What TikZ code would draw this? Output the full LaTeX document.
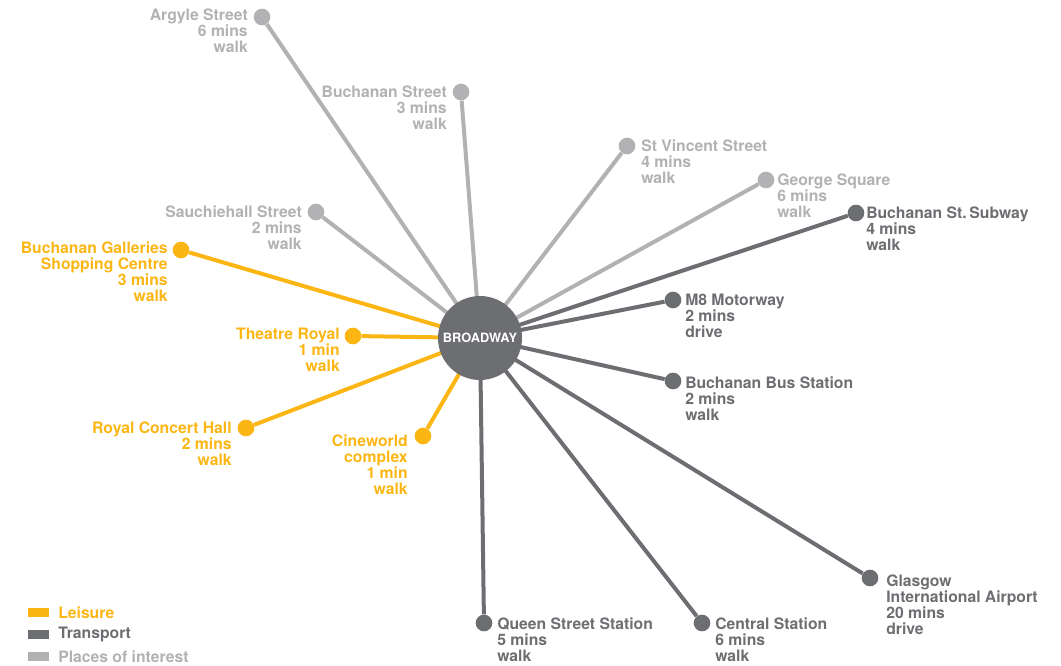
\documentclass[tikz,border=0pt]{standalone}
\usepackage{fontspec}
\setmainfont{TeX Gyre Heros}
\definecolor{leis}{HTML}{FBB614}
\definecolor{trans}{HTML}{6D6E71}
\definecolor{place}{HTML}{B2B2B4}
\tikzset{
  lbl/.style={font=\bfseries\fontsize{11.8}{12}\selectfont, inner sep=0pt},
  lblL/.style={lbl, align=right, anchor=north east},
  lblR/.style={lbl, align=left, anchor=north west},
  dot/.style={circle, fill=#1, minimum size=12.5pt, inner sep=0pt},
  spoke/.style={line width=3pt, draw=#1},
  swatch/.style={fill=#1, draw=none},
}
\begin{document}
\begin{tikzpicture}[x=0.75pt,y=-0.75pt]
\useasboundingbox (0,0) rectangle (1061,666);
\coordinate (o) at (480,338);
% dots
\node[dot=place] (argyle) at (262,17) {};
\node[dot=place] (buchst) at (461,92) {};
\node[dot=place] (stvin) at (627,146) {};
\node[dot=place] (george) at (766,180) {};
\node[dot=place] (sauch) at (316,212) {};
\node[dot=trans] (subway) at (856,213) {};
\node[dot=leis] (galleries) at (181,250) {};
\node[dot=trans] (m8) at (673,300) {};
\node[dot=leis] (theatre) at (353,336) {};
\node[dot=trans] (bus) at (673,381) {};
\node[dot=leis] (concert) at (246,428) {};
\node[dot=leis] (cine) at (423,436) {};
\node[dot=trans] (airport) at (870,578) {};
\node[dot=trans] (queen) at (484,623) {};
\node[dot=trans] (central) at (702,623) {};
% spokes
\foreach \n in {argyle,buchst,stvin,george,sauch}{\draw[spoke=place] (o) -- (\n);}
\foreach \n in {subway,m8,bus,airport,queen,central}{\draw[spoke=trans] (o) -- (\n);}
\foreach \n in {galleries,theatre,concert,cine}{\draw[spoke=leis] (o) -- (\n);}
% hub
\node[circle, fill=trans, minimum size=63pt, inner sep=0pt, text=white,
  font=\bfseries\fontsize{9.6}{10}\selectfont] (hub) at (o) {BROADWAY};
% labels
\node[lblL, text=place] (argyleL) at (248,9) {Argyle Street\\6 mins\\walk};
\node[lblL, text=place] (buchstL) at (447,86) {Buchanan Street\\3 mins\\walk};
\node[lblR, text=place] (stvinL) at (641,140) {St Vincent Street\\4 mins\\walk};
\node[lblR, text=place] (georgeL) at (777,174) {George Square\\6 mins\\walk};
\node[lblL, text=place] (sauchL) at (302,206) {Sauchiehall Street\\2 mins\\walk};
\node[lblR, text=trans] (subwayL) at (866,207) {Buchanan St.\,Subway\\4 mins\\walk};
\node[lblL, text=leis] (galleriesL) at (168,242) {Buchanan Galleries\\Shopping Centre\\3 mins\\walk};
\node[lblR, text=trans] (m8L) at (685,294) {M8 Motorway\\2 mins\\drive};
\node[lblL, text=leis] (theatreL) at (340,328) {Theatre Royal\\1 min\\walk};
\node[lblR, text=trans] (busL) at (685,377) {Buchanan Bus Station\\2 mins\\walk};
\node[lblL, text=leis] (concertL) at (232,422) {Royal Concert Hall\\2 mins\\walk};
\node[lblL, text=leis] (cineL) at (408,435) {Cineworld\\complex\\1 min\\walk};
\node[lblR, text=trans] (airportL) at (886,575) {Glasgow\\International Airport\\20 mins\\drive};
\node[lblR, text=trans] (queenL) at (497,618) {Queen Street Station\\5 mins\\walk};
\node[lblR, text=trans] (centralL) at (715,618) {Central Station\\6 mins\\walk};
% legend
\fill[swatch=leis] (28,607.5) rectangle (49,617);
\fill[swatch=trans] (28,629.5) rectangle (49,639);
\fill[swatch=place] (28,651.5) rectangle (49,661);
\node[lbl, anchor=west, text=leis] (legL) at (58,612.5) {Leisure};
\node[lbl, anchor=west, text=trans] (legT) at (58,634.5) {Transport};
\node[lbl, anchor=west, text=place] (legP) at (58,656.5) {Places of interest};
\end{tikzpicture}
\end{document}
